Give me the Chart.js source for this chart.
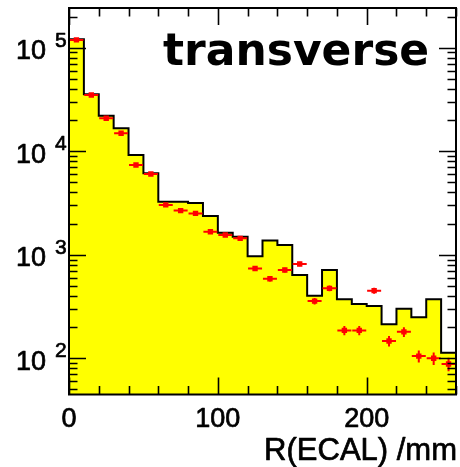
<!DOCTYPE html>
<html>
<head>
<meta charset="utf-8">
<script src="https://cdn.jsdelivr.net/npm/chart.js@4/dist/chart.umd.min.js"></script>
<style>
  html, body { margin: 0; padding: 0; background: #fff; }
  #c { display: block; }
</style>
</head>
<body>
<canvas id="c" width="460" height="467"></canvas>
<script>
// Lower edges of the 10 mm wide R(ECAL) bins
const binLow = [0, 10, 20, 30, 40, 50, 60, 70, 80, 90, 100, 110, 120,
                130, 140, 150, 160, 170, 180, 190, 200, 210, 220, 230, 240, 250];
const binWidth = 10;
const xMax = 260;

// Simulation histogram (yellow)
const simCounts = [121000, 35500, 22000, 16700, 9200, 6140, 3260, 3260, 3160, 2370,
                   1630, 1490, 966, 1370, 1240, 638, 403, 713, 372, 335,
                   320, 213, 301, 249, 372, 113];

// Measured points (red) and their vertical errors
const dataCounts = [119000, 34900, 20800, 14900, 7360, 6030, 3030, 2670, 2510, 1670,
                    1550, 1440, 737, 587, 713, 815, 357, 474, 186, 186,
                    450, 147, 180, 105, 100, 88];
const dataErrors = [480, 260, 200, 170, 120, 110, 77, 73, 70, 58,
                    55, 53, 38, 34, 38, 40, 26, 30, 19, 19,
                    30, 17, 19, 14, 14, 13];

// Axis ticks
const xMajorTicks = [0, 100, 200];
const xMinorStep = 20;
const yDecades = [2, 3, 4, 5];
const yMin = 44.7, yMax = 241800;

const titleText = 'transverse';
const xAxisTitle = 'R(ECAL) /mm';

const histPoints = binLow.map((x, i) => ({ x: x, y: simCounts[i] }));
histPoints.push({ x: xMax, y: simCounts[simCounts.length - 1] });
const dataPoints = binLow.map((x, i) => ({ x: x + binWidth / 2, y: dataCounts[i] }));

// Text with a hairline outline, for the heavier look of the axis labels
function heavyText(ctx, s, x, y) {
  ctx.fillText(s, x, y);
  ctx.strokeText(s, x, y);
}

const frame = {
  id: 'frame',
  afterDatasetsDraw(chart) {
    const ctx = chart.ctx, xs = chart.scales.x, ys = chart.scales.y;
    ctx.save();
    ctx.strokeStyle = '#ff0000';
    ctx.lineWidth = 2;
    dataCounts.forEach((v, i) => {
      const xc = binLow[i] + binWidth / 2;
      const py = ys.getPixelForValue(v);
      ctx.beginPath();
      ctx.moveTo(xs.getPixelForValue(xc - binWidth / 2 + 0.3), py);
      ctx.lineTo(xs.getPixelForValue(xc + binWidth / 2 - 0.3), py);
      ctx.moveTo(xs.getPixelForValue(xc), ys.getPixelForValue(v + dataErrors[i]));
      ctx.lineTo(xs.getPixelForValue(xc), ys.getPixelForValue(Math.max(v - dataErrors[i], yMin)));
      ctx.stroke();
    });
    ctx.restore();
  },
  afterDraw(chart) {
    const ctx = chart.ctx, a = chart.chartArea;
    const xs = chart.scales.x, ys = chart.scales.y;
    ctx.save();
    ctx.strokeStyle = '#000';
    ctx.lineWidth = 2;
    ctx.strokeRect(a.left, a.top, a.right - a.left, a.bottom - a.top);

    // x ticks, bottom and top, pointing inwards
    ctx.beginPath();
    for (let v = 0; v <= xMax; v += xMinorStep) {
      const px = Math.round(xs.getPixelForValue(v)) + 0.5;
      const len = xMajorTicks.includes(v) ? 17 : 8.5;
      ctx.moveTo(px, a.bottom); ctx.lineTo(px, a.bottom - len);
      ctx.moveTo(px, a.top); ctx.lineTo(px, a.top + len);
    }
    // y ticks, left and right
    for (let d = 1; d <= 5; d++) {
      for (let m = 1; m <= 9; m++) {
        const v = m * Math.pow(10, d);
        if (v < yMin || v > yMax) continue;
        const py = Math.round(ys.getPixelForValue(v)) + 0.5;
        const len = m === 1 ? 17 : 8.5;
        ctx.moveTo(a.left, py); ctx.lineTo(a.left + len, py);
        ctx.moveTo(a.right, py); ctx.lineTo(a.right - len, py);
      }
    }
    ctx.lineWidth = 1.6;
    ctx.stroke();

    ctx.fillStyle = '#000';
    ctx.lineWidth = 0.7;
    ctx.lineJoin = 'round';
    // x tick labels
    ctx.font = '27px "Liberation Sans", Arial, sans-serif';
    ctx.textAlign = 'center';
    ctx.textBaseline = 'alphabetic';
    xMajorTicks.forEach(v => {
      heavyText(ctx, String(v), xs.getPixelForValue(v), a.bottom + 32.5);
    });
    // y tick labels as 10 with a raised exponent
    yDecades.forEach(d => {
      const py = ys.getPixelForValue(Math.pow(10, d));
      ctx.font = '27px "Liberation Sans", Arial, sans-serif';
      ctx.textAlign = 'right';
      heavyText(ctx, '10', a.left - 23, py + 11.5);
      ctx.font = '21px "Liberation Sans", Arial, sans-serif';
      ctx.textAlign = 'left';
      heavyText(ctx, String(d), a.left - 14, py - 1);
    });
    // x axis title
    ctx.font = '31px "Liberation Sans", Arial, sans-serif';
    ctx.textAlign = 'right';
    heavyText(ctx, xAxisTitle, a.right + 1, a.bottom + 65.5);
    // title inside the frame
    ctx.font = 'bold 44px "DejaVu Sans", sans-serif';
    ctx.textAlign = 'left';
    ctx.fillText(titleText, 163, 65);
    ctx.restore();
  }
};

new Chart(document.getElementById('c'), {
  data: {
    datasets: [
      {
        type: 'line',
        data: histPoints,
        stepped: true,
        fill: 'start',
        backgroundColor: '#ffff00',
        borderColor: '#000',
        borderWidth: 2,
        pointRadius: 0,
        order: 2
      },
      {
        type: 'scatter',
        data: dataPoints,
        pointStyle: 'rect',
        pointRadius: 3.8,
        backgroundColor: '#ff0000',
        borderWidth: 0,
        order: 1
      }
    ]
  },
  options: {
    responsive: false,
    animation: false,
    devicePixelRatio: 1,
    layout: { padding: { left: 69, top: 8, right: 4, bottom: 72.5 } },
    plugins: { legend: { display: false }, tooltip: { enabled: false } },
    scales: {
      x: { type: 'linear', min: 0, max: xMax, display: false },
      y: { type: 'logarithmic', min: yMin, max: yMax, display: false }
    }
  },
  plugins: [frame]
});
</script>
</body>
</html>
